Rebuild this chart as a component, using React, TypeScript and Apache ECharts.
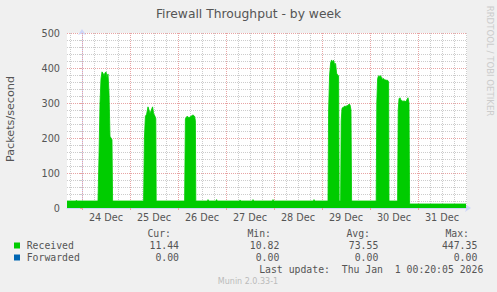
import React, { useEffect, useRef } from "react";
import * as echarts from "echarts";

// Hours since 24 Dec 00:00, packets/second (30‑minute averages)
const receivedSeries: [number, number][] = [
  [-7.5, 20], [-3, 20], [-2.8, 22], [-2.5, 20], [8.0, 20],
  [8.5, 150], [9.0, 300], [9.5, 370], [10.0, 389], [10.5, 385], [11.0, 378], [11.5, 386],
  [12.0, 389], [12.5, 372], [13.0, 383], [13.5, 330], [14.0, 205], [14.5, 200], [15.0, 195], [15.3, 20],
  [30.8, 20], [31.2, 200], [31.7, 262], [32.3, 268], [33.0, 289], [33.5, 280], [34.0, 270],
  [34.5, 278], [35.3, 289], [35.8, 270], [36.5, 262], [36.9, 255], [37.1, 20],
  [51.3, 20], [51.7, 255], [52.5, 262], [53.5, 258], [54.5, 262], [55.5, 266], [56.3, 262], [56.7, 250], [56.9, 20],
  [62.8, 20], [63.0, 24], [63.3, 20], [67.0, 20], [67.3, 24], [67.6, 20],
  [78.8, 20], [79.0, 23], [79.3, 20], [85.3, 20], [85.5, 24], [85.8, 20],
  [95.3, 20], [95.5, 24], [95.8, 20], [115.8, 20], [116.0, 24], [116.3, 20],
  [123.0, 20], [123.3, 280], [123.8, 380], [124.3, 415], [124.8, 423], [125.3, 418], [125.8, 422],
  [126.3, 410], [126.8, 413], [127.3, 385], [127.8, 380], [128.3, 378], [128.6, 20],
  [129.3, 20], [129.6, 250], [130.0, 285], [130.5, 287], [131.0, 290], [131.5, 291], [132.0, 290],
  [132.5, 292], [133.0, 293], [133.5, 297], [134.0, 295], [134.5, 280], [134.8, 20],
  [147.1, 20], [147.4, 300], [147.8, 370], [148.3, 378], [148.8, 376], [149.3, 378], [149.8, 372],
  [150.3, 368], [150.8, 370], [151.3, 366], [151.8, 366], [152.3, 365], [152.8, 365], [153.3, 360], [153.5, 20],
  [157.8, 20], [158.1, 280], [158.5, 312], [159.0, 315], [159.5, 308], [160.0, 306], [160.5, 305],
  [161.0, 306], [161.5, 305], [162.0, 304], [162.5, 310], [163.0, 315], [163.5, 300], [163.8, 11.5],
  [192.0, 11.44],
];
const forwardedSeries: [number, number][] = [
  [-7.5, 0], [192.0, 0],
];

const dayLabels = ["24 Dec", "25 Dec", "26 Dec", "27 Dec", "28 Dec", "29 Dec", "30 Dec", "31 Dec"];
const dayLabelHours = [12, 36, 60, 84, 108, 132, 156, 180];
const midnightHours = [0, 24, 48, 72, 96, 120, 144, 168];

const statHeaders = ["Cur:", "Min:", "Avg:", "Max:"];
const receivedStats = ["11.44", "10.82", "73.55", "447.35"];
const forwardedStats = ["0.00", "0.00", "0.00", "0.00"];
const legendNames = ["Received", "Forwarded"];
const legendColors = ["#00CC00", "#0066B3"];

const TITLE = "Firewall Throughput - by week";
const Y_NAME = "Packets/second";
const LAST_UPDATE = "Last update:  Thu Jan  1 00:20:05 2026";
const VERSION = "Munin 2.0.33-1";
const WATERMARK = "RRDTOOL / TOBI OETIKER";

const X_MIN = -7.5;
const X_MAX = 192.5;

export default function App() {
  const ref = useRef<HTMLDivElement>(null);

  useEffect(() => {
    if (!ref.current) return;
    const chart = echarts.init(ref.current, null, { renderer: "svg" });

    const SANS = "DejaVu Sans";
    const MONO = "DejaVu Sans Mono";
    const FONT_COLOR = "#555555";
    const MINOR = "#cccccc";
    const MAJOR = "#e8a4a4";

    // vertical grid lines every 6 hours
    const gridLines: any[] = [];
    for (let h = -6; h <= 192; h += 6) {
      const major = midnightHours.indexOf(h) >= 0;
      gridLines.push({
        xAxis: h,
        lineStyle: { color: major ? MAJOR : MINOR, type: [1, 1], width: 1 },
      });
    }

    const statCols = [171, 271, 370, 469];
    const valCols = [179, 279.3, 378.3, 477.3];
    const rowY = [245.5, 257.5];

    const graphics: any[] = [
      {
        type: "text", x: 248.5, y: 13.5,
        style: { text: TITLE, fontFamily: SANS, fontSize: 12.3, fill: FONT_COLOR, textAlign: "center", textVerticalAlign: "middle" },
      },
      {
        type: "text", x: 10.5, y: 119, rotation: Math.PI / 2,
        style: { text: Y_NAME, fontFamily: SANS, fontSize: 11.2, fill: FONT_COLOR, textAlign: "center", textVerticalAlign: "middle" },
      },
      {
        type: "text", x: 489.5, y: 61, rotation: -Math.PI / 2,
        style: { text: WATERMARK, fontFamily: SANS, fontSize: 8.6, fill: "#cccccc", textAlign: "center", textVerticalAlign: "middle" },
      },
      {
        type: "text", x: 483.3, y: 269.7,
        style: { text: LAST_UPDATE, fontFamily: MONO, fontSize: 9.8, fill: FONT_COLOR, textAlign: "right", textVerticalAlign: "middle" },
      },
      {
        type: "text", x: 248, y: 281,
        style: { text: VERSION, fontFamily: SANS, fontSize: 8, fill: "#bbbbbb", textAlign: "center", textVerticalAlign: "middle" },
      },
    ];
    statHeaders.forEach((t, i) => {
      graphics.push({
        type: "text", x: statCols[i], y: 233.3,
        style: { text: t, fontFamily: MONO, fontSize: 9.8, fill: FONT_COLOR, textAlign: "right", textVerticalAlign: "middle" },
      });
    });
    const statsRows = [receivedStats, forwardedStats];
    legendNames.forEach((name, r) => {
      graphics.push({
        type: "rect", shape: { x: 14, y: rowY[r] - 3, width: 6, height: 6 },
        style: { fill: legendColors[r] },
      });
      graphics.push({
        type: "text", x: 26.7, y: rowY[r],
        style: { text: name, fontFamily: MONO, fontSize: 9.8, fill: FONT_COLOR, textAlign: "left", textVerticalAlign: "middle" },
      });
      statsRows[r].forEach((v, i) => {
        graphics.push({
          type: "text", x: valCols[i], y: rowY[r],
          style: { text: v, fontFamily: MONO, fontSize: 9.8, fill: FONT_COLOR, textAlign: "right", textVerticalAlign: "middle" },
        });
      });
    });

    chart.setOption({
      animation: false,
      backgroundColor: "#F0F0F0",
      grid: {
        left: 67, right: 30, top: 33, bottom: 84,
        show: true, backgroundColor: "#ffffff", borderWidth: 0,
      },
      xAxis: {
        type: "value",
        min: X_MIN,
        max: X_MAX,
        axisLine: {
          show: true,
          lineStyle: { color: "#CFD6F8", width: 1 },
          symbol: ["none", "arrow"],
          symbolSize: [6, 6],
          symbolOffset: [0, 4],
        },
        axisTick: {
          show: true, length: 2, inside: false,
          customValues: midnightHours,
          lineStyle: { color: MAJOR },
        },
        splitLine: { show: false },
        axisLabel: {
          customValues: dayLabelHours,
          formatter: (v: number) => {
            const i = dayLabelHours.indexOf(v);
            return i >= 0 ? dayLabels[i] : "";
          },
          fontFamily: SANS,
          fontSize: 9.7,
          color: FONT_COLOR,
          margin: 4,
        },
      },
      yAxis: {
        type: "value",
        min: 0,
        max: 500,
        interval: 100,
        axisLine: {
          show: true,
          lineStyle: { color: "#CFD6F8", width: 1 },
          symbol: ["none", "arrow"],
          symbolSize: [6, 6],
          symbolOffset: [0, 4],
        },
        axisTick: { show: true, length: 2, lineStyle: { color: MAJOR } },
        minorTick: { show: true, splitNumber: 5, length: 2, lineStyle: { color: MINOR } },
        splitLine: { show: true, lineStyle: { color: MAJOR, type: [1, 1], width: 1 } },
        minorSplitLine: { show: true, lineStyle: { color: MINOR, type: [1, 1], width: 1 } },
        axisLabel: { fontFamily: SANS, fontSize: 9.7, color: FONT_COLOR, margin: 7 },
      },
      series: [
        {
          name: "Forwarded",
          type: "line",
          data: forwardedSeries,
          showSymbol: false,
          lineStyle: { opacity: 0, width: 0 },
          silent: true,
          z: 1,
          markLine: {
            silent: true,
            symbol: ["none", "none"],
            label: { show: false },
            z: 1,
            data: gridLines,
          },
        },
        {
          name: "Received",
          type: "line",
          data: receivedSeries,
          showSymbol: false,
          lineStyle: { color: "#00CC00", width: 0.8 },
          areaStyle: { color: "#00CC00", opacity: 1 },
          z: 5,
          silent: true,
        },
      ],
      graphic: graphics,
    });

    return () => chart.dispose();
  }, []);

  return (
    <div
      ref={ref}
      style={{ position: "fixed", left: 0, top: 0, width: 497, height: 292, background: "#F0F0F0" }}
    />
  );
}
